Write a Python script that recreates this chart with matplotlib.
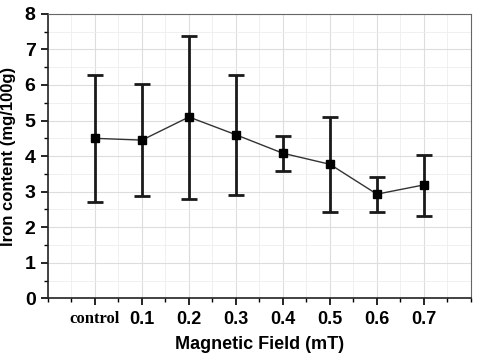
import matplotlib.pyplot as plt
from matplotlib.ticker import MultipleLocator

labels = ['control', '0.1', '0.2', '0.3', '0.4', '0.5', '0.6', '0.7']
iron = [4.50, 4.45, 5.10, 4.60, 4.08, 3.77, 2.93, 3.19]
upper = [6.29, 6.03, 7.38, 6.29, 4.57, 5.10, 3.42, 4.04]
lower = [2.70, 2.89, 2.80, 2.90, 3.58, 2.42, 2.43, 2.32]

pos = list(range(1, len(labels) + 1))
err_lo = [m - l for m, l in zip(iron, lower)]
err_hi = [u - m for m, u in zip(iron, upper)]

fig = plt.figure(figsize=(4.8, 3.56), dpi=100)
ax = fig.add_axes([0.1, 0.162, 0.881, 0.799])

ax.errorbar(pos, iron, yerr=[err_lo, err_hi], fmt='none', ecolor='#1a1a1a',
            elinewidth=2.0, capsize=6, capthick=2.0, zorder=3)
ax.plot(pos, iron, color='#333333', lw=1.0, marker='s', ms=6,
        mfc='black', mec='black', zorder=4)

ax.set_xlim(0, 9)
ax.set_ylim(0, 8)
ax.set_xticks(pos)
ax.set_xticklabels(labels)
ax.xaxis.set_minor_locator(MultipleLocator(0.5))
ax.yaxis.set_major_locator(MultipleLocator(1))
ax.yaxis.set_minor_locator(MultipleLocator(0.5))

ax.grid(True, which='major', color='#dddddd', lw=0.8)
ax.grid(True, which='minor', color='#eeeeee', lw=0.6)
ax.set_axisbelow(True)

for s in ['top', 'right']:
    ax.spines[s].set_color('#666666')
for s in ['left', 'bottom']:
    ax.spines[s].set_color('#222222')
    ax.spines[s].set_linewidth(1.2)

ax.tick_params(which='major', direction='out', length=5, width=1.2, pad=4)
ax.tick_params(which='minor', direction='out', length=3, width=1.0)
ax.tick_params(top=False, right=False)

for t in ax.get_yticklabels():
    t.set_fontfamily('Liberation Sans')
    t.set_fontweight('bold')
    t.set_fontsize(14)
for i, t in enumerate(ax.get_xticklabels()):
    t.set_fontweight('bold')
    if i == 0:
        t.set_fontfamily('Liberation Serif')
        t.set_fontsize(12)
    else:
        t.set_fontfamily('Liberation Sans')
        t.set_fontsize(13)

ax.set_xlabel('Magnetic Field (mT)', fontfamily='Liberation Sans',
              fontweight='bold', fontsize=13, labelpad=6)
ax.set_ylabel('Iron content (mg/100g)', fontfamily='Liberation Sans',
              fontweight='bold', fontsize=12, labelpad=6)

fig.savefig('out.png', dpi=100)
